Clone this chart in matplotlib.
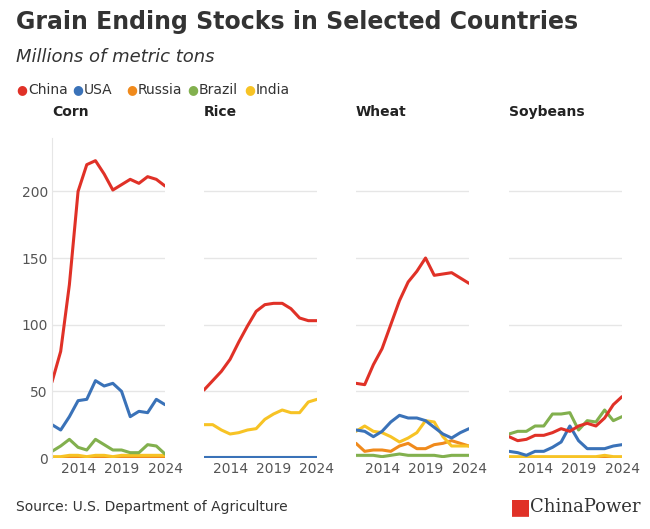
import matplotlib
matplotlib.use("Agg")
import matplotlib.pyplot as plt
import numpy as np

years = list(range(2011, 2025))
countries = ["China", "USA", "Russia", "Brazil", "India"]
colors = {"China": "#e03127", "USA": "#3a72b8", "Russia": "#f08a1c", "Brazil": "#82b04e", "India": "#f7c325"}
crops = ["Corn", "Rice", "Wheat", "Soybeans"]

corn = {
    "China": [57, 80, 130, 200, 220, 223, 213, 201, 205, 209, 206, 211, 209, 204],
    "USA": [25, 21, 31, 43, 44, 58, 54, 56, 50, 31, 35, 34, 44, 40],
    "Russia": [1, 1, 1, 1, 1, 1, 1, 1, 1, 1, 1, 1, 1, 1],
    "Brazil": [5, 9, 14, 8, 6, 14, 10, 6, 6, 4, 4, 10, 9, 3],
    "India": [1, 1, 2, 2, 1, 2, 2, 1, 2, 2, 2, 2, 2, 2],
}
rice = {
    "China": [51, 58, 65, 74, 87, 99, 110, 115, 116, 116, 112, 105, 103, 103],
    "USA": [1, 1, 1, 1, 1, 1, 1, 1, 1, 1, 1, 1, 1, 1],
    "Russia": [0.3] * 14,
    "Brazil": [1, 1, 1, 1, 1, 1, 1, 1, 1, 1, 1, 1, 1, 1],
    "India": [25, 25, 21, 18, 19, 21, 22, 29, 33, 36, 34, 34, 42, 44],
}
wheat = {
    "China": [56, 55, 70, 82, 100, 118, 132, 140, 150, 137, 138, 139, 135, 131],
    "USA": [21, 20, 16, 20, 27, 32, 30, 30, 28, 23, 18, 15, 19, 22],
    "Russia": [11, 5, 6, 6, 5, 9, 11, 7, 7, 10, 11, 13, 11, 9],
    "Brazil": [2, 2, 2, 1, 2, 3, 2, 2, 2, 2, 1, 2, 2, 2],
    "India": [20, 24, 20, 19, 16, 12, 15, 19, 28, 27, 16, 9, 9, 9],
}
soy = {
    "China": [16, 13, 14, 17, 17, 19, 22, 20, 24, 26, 24, 30, 40, 46],
    "USA": [5, 4, 2, 5, 5, 8, 12, 24, 13, 7, 7, 7, 9, 10],
    "Russia": [0.5] * 14,
    "Brazil": [18, 20, 20, 24, 24, 33, 33, 34, 21, 28, 27, 36, 28, 31],
    "India": [1, 1, 1, 1, 1, 1, 1, 1, 1, 1, 1, 2, 1, 1],
}
data = [corn, rice, wheat, soy]

fig = plt.figure(figsize=(6.5, 5.29), dpi=100)
W, H = 650, 529
lefts = [52, 204, 356, 509]
pw = 113
top, bot = 138, 458
for i, (crop, d) in enumerate(zip(crops, data)):
    ax = fig.add_axes([lefts[i] / W, 1 - bot / H, pw / W, (bot - top) / H])
    for c in ["Russia", "India", "Brazil", "USA", "China"]:
        ax.plot(years, d[c], color=colors[c], lw=2.2, solid_capstyle="round", solid_joinstyle="round")
    ax.set_xlim(2011, 2024)
    ax.set_ylim(0, 240)
    ax.set_yticks([0, 50, 100, 150, 200])
    ax.set_xticks([2014, 2019, 2024])
    ax.grid(axis="y", color="#e6e6e6", lw=1)
    ax.set_axisbelow(True)
    for s in ax.spines.values():
        s.set_visible(False)
    ax.tick_params(length=0, labelsize=10, colors="#555555", pad=3)
    if i == 0:
        ax.spines["left"].set_visible(True)
        ax.spines["left"].set_color("#e6e6e6")
    else:
        ax.set_yticklabels([])
    ax.text(0, 1.06, crop, transform=ax.transAxes, fontsize=10, fontweight="bold", color="#222222", va="bottom")

fig.text(16 / W, 1 - 22 / H, "Grain Ending Stocks in Selected Countries", fontsize=17, fontweight="bold", color="#333333", va="center")
fig.text(16 / W, 1 - 57 / H, "Millions of metric tons", fontsize=13, style="italic", color="#333333", va="center")
legx = [16, 72, 126, 187, 244]
for c, x in zip(countries, legx):
    fig.text(x / W, 1 - 90 / H, "\u25cf", color=colors[c], fontsize=9, va="center")
    fig.text((x + 12) / W, 1 - 90 / H, c, color="#333333", fontsize=10, va="center")
fig.text(16 / W, 1 - 507 / H, "Source: U.S. Department of Agriculture", fontsize=10, color="#333333", va="center")
fig.text(510 / W, 1 - 507 / H, "\u25a0", color="#e03127", fontsize=16, va="center")
fig.text(530 / W, 1 - 507 / H, "ChinaPower", fontsize=13, family="DejaVu Serif", color="#333333", va="center")
fig.savefig("out.png", dpi=100, facecolor="white")
